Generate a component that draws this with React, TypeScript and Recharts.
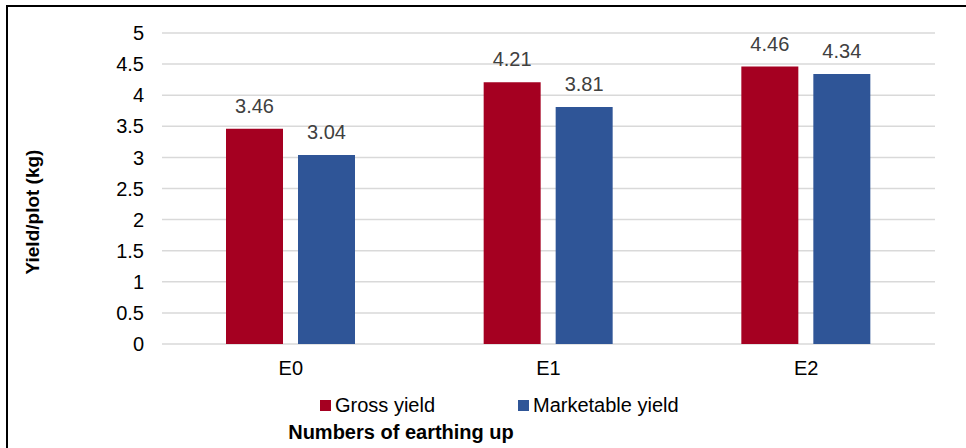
import { Bar, BarChart, CartesianGrid, Label, LabelList, Legend, XAxis, YAxis } from "recharts";

const categories = ["E0", "E1", "E2"];
const grossYield = [3.46, 4.21, 4.46];
const marketableYield = [3.04, 3.81, 4.34];
const yTicks = [0, 0.5, 1, 1.5, 2, 2.5, 3, 3.5, 4, 4.5, 5];

const RED = "#A50021";
const BLUE = "#2F5597";
const FONT = "Liberation Sans, Arial, sans-serif";

const data = categories.map((name, i) => ({
  name,
  gross: grossYield[i],
  marketable: marketableYield[i],
}));

function LegendBox() {
  const items = [
    { label: "Gross yield", color: RED, left: 320 },
    { label: "Marketable yield", color: BLUE, left: 518 },
  ];
  return (
    <div style={{ position: "relative", height: 30, fontFamily: FONT, fontSize: 20, color: "#000" }}>
      {items.map((it) => (
        <div
          key={it.label}
          style={{ position: "absolute", left: it.left, top: 0, height: 30, display: "flex", alignItems: "center", whiteSpace: "nowrap" }}
        >
          <span style={{ width: 11, height: 11, background: it.color, marginRight: 4, display: "inline-block" }} />
          {it.label}
        </div>
      ))}
    </div>
  );
}

export default function App() {
  return (
    <div style={{ position: "absolute", left: 0, top: 0, width: 966, height: 448, background: "#fff" }}>
      <BarChart
        width={966}
        height={448}
        data={data}
        margin={{ top: 33, right: 31, left: 0, bottom: 28 }}
        barSize={57}
        barGap={15}
      >
        <CartesianGrid vertical={false} stroke="#d9d9d9" strokeWidth={1.5} />
        <XAxis
          dataKey="name"
          height={46}
          axisLine={false}
          tickLine={false}
          tickSize={0}
          tickMargin={17}
          tick={{ fontSize: 20, fill: "#000", fontFamily: FONT }}
        >
          <Label
            content={() => (
              <text x={401} y={439} textAnchor="middle" fontFamily={FONT} fontSize={20} fontWeight="bold" fill="#000">
                Numbers of earthing up
              </text>
            )}
          />
        </XAxis>
        <YAxis
          width={162}
          domain={[0, 5]}
          ticks={yTicks}
          interval={0}
          axisLine={false}
          tickLine={false}
          tickSize={0}
          tickMargin={18}
          tick={{ fontSize: 20, fill: "#000", fontFamily: FONT }}
        >
          <Label
            content={() => (
              <text
                x={32}
                y={212}
                transform="rotate(-90, 32, 212)"
                textAnchor="middle"
                dominantBaseline="central"
                fontFamily={FONT}
                fontSize={19}
                fontWeight="bold"
                fill="#000"
              >
                Yield/plot (kg)
              </text>
            )}
          />
        </YAxis>
        <Legend verticalAlign="bottom" wrapperStyle={{ left: 0, width: 966 }} content={() => <LegendBox />} />
        <Bar dataKey="gross" name="Gross yield" fill={RED} isAnimationActive={false}>
          <LabelList dataKey="gross" position="top" offset={16} fill="#404040" fontSize={20} fontFamily={FONT} />
        </Bar>
        <Bar dataKey="marketable" name="Marketable yield" fill={BLUE} isAnimationActive={false}>
          <LabelList dataKey="marketable" position="top" offset={16} fill="#404040" fontSize={20} fontFamily={FONT} />
        </Bar>
      </BarChart>
      <div
        style={{
          position: "absolute",
          left: 6,
          top: 5,
          width: 960,
          height: 443,
          borderTop: "2px solid #000",
          borderLeft: "2px solid #000",
          pointerEvents: "none",
        }}
      />
    </div>
  );
}
